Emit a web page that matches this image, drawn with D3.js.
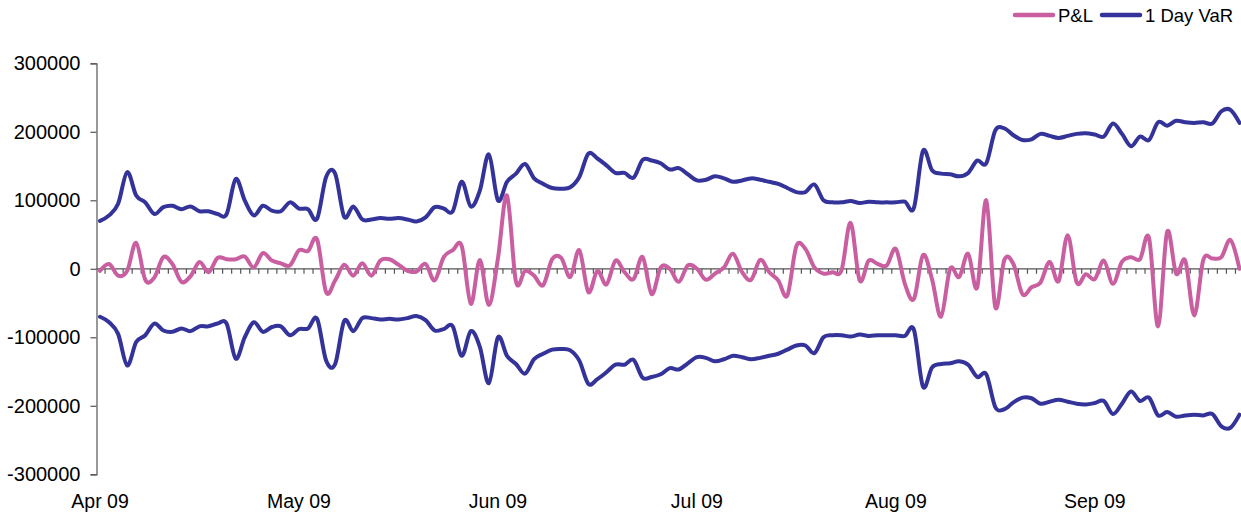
<!DOCTYPE html>
<html>
<head>
<meta charset="utf-8">
<script src="https://cdn.jsdelivr.net/npm/d3@7"></script>
<style>
  html, body { margin: 0; padding: 0; background: #fff; }
  svg { display: block; font-family: "Liberation Sans", Arial, sans-serif; }
</style>
</head>
<body>
<svg id="chart" width="1241" height="516"></svg>
<script>
// ---- Data ----
const monthLabels = ["Apr 09", "May 09", "Jun 09", "Jul 09", "Aug 09", "Sep 09"];
const monthLabelIndex = [0, 22, 44, 66, 88, 110];
const yTicks = [-300000, -200000, -100000, 0, 100000, 200000, 300000];

const pnl = [
  -3000, 7000, -10000, -3000, 38000, -16000, -13000, 17000, 7000, -19000,
  -11000, 10000, -5000, 16000, 14000, 14000, 18000, 2000, 23000, 12000,
  8000, 5000, 27000, 26000, 43000, -34000, -17000, 6000, -10000, 8000,
  -10000, 12000, 14000, 6000, -3000, -4000, 7000, -17000, 17000, 27000,
  33000, -51000, 13000, -53000, 15000, 107000, -19000, -3000, -10000, -24000,
  14000, 16000, -12000, 27000, -34000, -3000, -23000, 12000, -5000, -15000,
  17000, -37000, 2000, 0, -19000, 5000, 0, -16000, -7000, 2000,
  22000, -5000, -16000, 13000, -5000, -17000, -39000, 33000, 29000, 2000,
  -7000, -5000, -2000, 67000, -17000, 12000, 7000, 5000, 29000, -22000,
  -44000, 20000, -15000, -70000, 0, -12000, 22000, -27000, 100000, -56000,
  13000, 7000, -37000, -27000, -20000, 10000, -18000, 49000, -20000, -8000,
  -15000, 12000, -22000, 10000, 17000, 14000, 45000, -84000, 54000, -7000,
  12000, -68000, 13000, 15000, 17000, 42000, 0
];

const varUpper = [
  70000, 78000, 95000, 141000, 107000, 97000, 80000, 90000, 92000, 87000,
  91000, 84000, 84000, 80000, 80000, 131000, 100000, 78000, 92000, 85000,
  84000, 97000, 88000, 87000, 73000, 134000, 139000, 76000, 91000, 72000,
  72000, 74000, 73000, 74000, 72000, 69000, 75000, 90000, 88000, 84000,
  127000, 91000, 114000, 167000, 100000, 127000, 139000, 153000, 132000, 124000,
  118000, 117000, 119000, 134000, 168000, 161000, 151000, 140000, 140000, 133000,
  159000, 158000, 154000, 145000, 147000, 138000, 129000, 130000, 135000, 132000,
  127000, 129000, 132000, 130000, 127000, 124000, 118000, 112000, 112000, 123000,
  100000, 97000, 97000, 99000, 96000, 98000, 97000, 97000, 97000, 98000,
  89000, 172000, 144000, 139000, 138000, 135000, 140000, 158000, 154000, 202000,
  205000, 195000, 188000, 189000, 197000, 194000, 191000, 194000, 197000, 198000,
  196000, 193000, 212000, 197000, 179000, 193000, 188000, 214000, 209000, 216000,
  214000, 213000, 214000, 212000, 230000, 232000, 213000
];

const varLower = [
  -70000, -78000, -95000, -141000, -107000, -97000, -80000, -90000, -92000, -87000,
  -91000, -84000, -84000, -80000, -80000, -131000, -100000, -78000, -92000, -85000,
  -84000, -97000, -88000, -87000, -73000, -134000, -139000, -76000, -91000, -72000,
  -72000, -74000, -73000, -74000, -72000, -69000, -75000, -90000, -88000, -84000,
  -127000, -91000, -114000, -167000, -100000, -127000, -139000, -153000, -132000, -124000,
  -118000, -117000, -119000, -134000, -168000, -161000, -151000, -140000, -140000, -133000,
  -159000, -158000, -154000, -145000, -147000, -138000, -129000, -130000, -135000, -132000,
  -127000, -129000, -132000, -130000, -127000, -124000, -118000, -112000, -112000, -123000,
  -100000, -97000, -97000, -99000, -96000, -98000, -97000, -97000, -97000, -98000,
  -89000, -172000, -144000, -139000, -138000, -135000, -140000, -158000, -154000, -202000,
  -205000, -195000, -188000, -189000, -197000, -194000, -191000, -194000, -197000, -198000,
  -196000, -193000, -212000, -197000, -179000, -193000, -188000, -214000, -209000, -216000,
  -214000, -213000, -214000, -212000, -230000, -232000, -213000
];

const seriesNames = ["P&L", "1 Day VaR"];
const colors = { pnl: "#C95FA0", var: "#333399" };

// ---- Layout ----
const svg = d3.select("#chart");
const N = pnl.length;
const x = d3.scaleLinear().domain([-0.5, N - 0.5]).range([95.5, 1244]);
const y = d3.scaleLinear().domain([-300000, 300000]).range([474.3, 63.3]);
const axisColor = "#555";

// Y axis
const yAxis = d3.axisLeft(y).tickValues(yTicks).tickSize(6).tickPadding(10)
  .tickFormat(d => String(d));
const yg = svg.append("g").attr("transform", `translate(${x(-0.5) + 1},0)`).call(yAxis);
yg.select(".domain").attr("stroke", axisColor).attr("stroke-width", 1.2);
yg.selectAll(".tick line").attr("stroke", axisColor).attr("stroke-width", 1.2);
yg.selectAll(".tick text").attr("fill", "#000").style("font-size", "20px")
  .style("font-family", "'Liberation Sans', Arial, sans-serif");

// Zero line with small category ticks
const tickIdx = d3.range(0, N).map(i => i + 0.5);
const xAxis = d3.axisBottom(x).tickValues(tickIdx).tickSize(5).tickFormat("");
const xg = svg.append("g").attr("transform", `translate(0,${y(0)})`).call(xAxis);
xg.select(".domain").attr("stroke", axisColor).attr("stroke-width", 1.2)
  .attr("d", `M${x(-0.5) + 1},0H${x(N - 0.5)}`);
xg.selectAll(".tick line").attr("stroke", axisColor).attr("stroke-width", 1.2);

// Month labels
svg.append("g").selectAll("text").data(monthLabels).join("text")
  .attr("x", (d, i) => x(monthLabelIndex[i]))
  .attr("y", 508)
  .attr("text-anchor", "middle")
  .style("font-size", "19.5px")
  .attr("fill", "#000")
  .text(d => d);

// Lines
const line = d3.line()
  .x((d, i) => x(i))
  .y(d => y(d))
  .curve(d3.curveCatmullRom.alpha(0));

const plot = svg.append("g");
plot.append("path").datum(varUpper).attr("d", line)
  .attr("fill", "none").attr("stroke", colors.var).attr("stroke-width", 4)
  .attr("stroke-linejoin", "round").attr("stroke-linecap", "round");
plot.append("path").datum(varLower).attr("d", line)
  .attr("fill", "none").attr("stroke", colors.var).attr("stroke-width", 4)
  .attr("stroke-linejoin", "round").attr("stroke-linecap", "round");
plot.append("path").datum(pnl).attr("d", line)
  .attr("fill", "none").attr("stroke", colors.pnl).attr("stroke-width", 4)
  .attr("stroke-linejoin", "round").attr("stroke-linecap", "round");

// Legend
const legend = svg.append("g");
const legendItems = [
  { name: seriesNames[0], color: colors.pnl, x1: 1015, x2: 1053, tx: 1058 },
  { name: seriesNames[1], color: colors.var, x1: 1102, x2: 1140, tx: 1145 }
];
legendItems.forEach(it => {
  legend.append("line").attr("x1", it.x1).attr("x2", it.x2).attr("y1", 15).attr("y2", 15)
    .attr("stroke", it.color).attr("stroke-width", 4.5).attr("stroke-linecap", "round");
  legend.append("text").attr("x", it.tx).attr("y", 21.5)
    .style("font-size", "18.5px").attr("fill", "#000").text(it.name);
});
</script>
</body>
</html>
